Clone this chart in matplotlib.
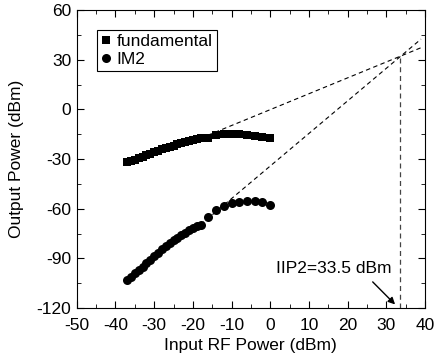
import matplotlib
matplotlib.use("Agg")
import matplotlib.pyplot as plt
from matplotlib.ticker import MultipleLocator

plt.rcParams['font.family'] = ['Liberation Sans', 'DejaVu Sans']
plt.rcParams['axes.unicode_minus'] = False

# Input power (dBm)
fund_x = [-37, -36, -35, -34, -33, -32, -31, -30, -29, -28, -27, -26, -25, -24,
          -23, -22, -21, -20, -19, -18, -16, -14, -12, -10, -8, -6, -4, -2, 0]
fund_y = [-32.0, -31.2, -30.3, -29.4, -28.5, -27.6, -26.8, -25.9, -25.0, -24.2,
          -23.4, -22.6, -21.8, -21.0, -20.3, -19.6, -19.0, -18.4, -17.9, -17.4,
          -17.0, -15.6, -14.9, -14.8, -14.9, -15.2, -15.8, -16.5, -17.4]

im2_x = [-37, -36, -35, -34, -33, -32, -31, -30, -29, -28, -27, -26, -25, -24,
         -23, -22, -21, -20, -19, -18, -16, -14, -12, -10, -8, -6, -4, -2, 0]
im2_y = [-103.0, -101.0, -99.0, -97.0, -95.0, -93.0, -90.8, -88.6, -86.5, -84.5,
         -82.5, -80.6, -79.0, -77.4, -75.9, -74.5, -73.1, -71.8, -70.6, -69.6,
         -64.8, -60.8, -58.2, -56.8, -55.8, -55.2, -55.2, -55.8, -58.0]

# Extrapolation lines (start point, IIP2 point, end x)
iip2_x = 33.5
iip2_y = 32.0
fund_ext_x = [-18, 39]
fund_ext_y = [-17.4, 37.3]
im2_ext_x = [-18, 39]
im2_ext_y = [-69.6, 42.5]

fig = plt.figure(figsize=(4.34, 3.62), dpi=100)
ax = fig.add_axes([0.177, 0.149, 0.802, 0.823])

ax.plot(fund_ext_x, fund_ext_y, ls=(0, (4, 3)), color='black', lw=0.8)
ax.plot(im2_ext_x, im2_ext_y, ls=(0, (4, 3)), color='black', lw=0.8)
ax.plot([iip2_x, iip2_x], [-120, iip2_y], ls=(0, (4, 3)), color='#444444', lw=0.9)

ax.plot(fund_x, fund_y, 's', color='black', ms=5.5, mew=0, label='fundamental')
ax.plot(im2_x, im2_y, 'o', color='black', ms=6.5, mew=0, label='IM2')

ax.annotate('', xy=(32.8, -119), xytext=(26, -103),
            arrowprops=dict(arrowstyle='-|>', color='black', lw=1, mutation_scale=10))
ax.text(16.5, -96, 'IIP2=33.5 dBm', fontsize=12.5, ha='center', va='center')

ax.set_xlim(-50, 40)
ax.set_ylim(-120, 60)
ax.xaxis.set_major_locator(MultipleLocator(10))
ax.xaxis.set_minor_locator(MultipleLocator(5))
ax.yaxis.set_major_locator(MultipleLocator(30))
ax.yaxis.set_minor_locator(MultipleLocator(15))
ax.tick_params(which='both', direction='in', top=True, right=True, labelsize=12.5)
ax.tick_params(axis='x', which='major', pad=7)
ax.tick_params(axis='y', which='major', pad=4)
ax.tick_params(which='major', length=5)
ax.tick_params(which='minor', length=3)

ax.set_xlabel('Input RF Power (dBm)', fontsize=12.5, labelpad=4)
ax.set_ylabel('Output Power (dBm)', fontsize=12.5, labelpad=9)

leg = ax.legend(loc='upper left', bbox_to_anchor=(0.057, 0.935), borderaxespad=0,
                fontsize=12.5, handlelength=0.6, handletextpad=0.3, borderpad=0.25,
                labelspacing=0.15, fancybox=False, edgecolor='black', framealpha=1)
leg.get_frame().set_linewidth(0.8)

fig.savefig('out.png', dpi=100)
